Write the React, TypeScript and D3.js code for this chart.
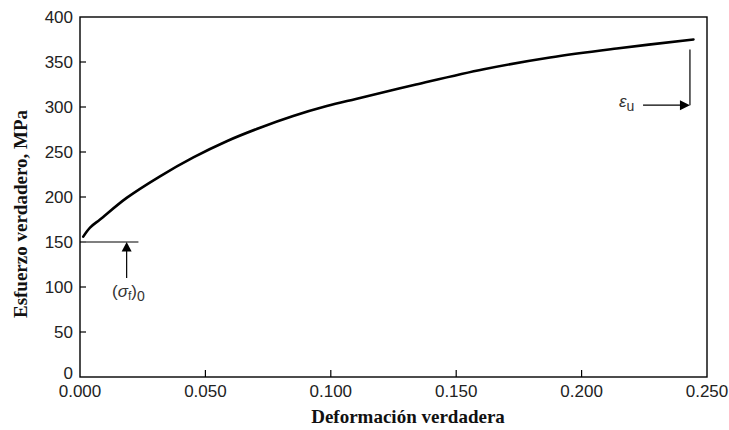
import React from "react";
import * as d3 from "d3";

const strain = [0.0013, 0.004, 0.008, 0.0186, 0.0319, 0.0452, 0.0585, 0.0718, 0.085, 0.0984, 0.11, 0.134, 0.161, 0.1874, 0.214, 0.2446];
const stress = [156, 166, 175, 199, 223, 244, 262, 277, 290, 301, 309, 325, 342, 355, 365, 375];
const xTicks = [0, 0.05, 0.1, 0.15, 0.2, 0.25];
const yTicks = [0, 50, 100, 150, 200, 250, 300, 350, 400];
const sigma0 = 150;
const sigma0LineEnd = 0.0233;
const sigma0ArrowX = 0.0186;
const sigma0ArrowFrom = 110;
const epsU = 0.2432;
const epsUTop = 364;
const epsUArrowY = 302;
const epsUArrowFrom = 0.2245;

export default function App() {
  const W = 729, H = 430;
  const m = { left: 80, right: 707, top: 17, bottom: 377 };
  const x = d3.scaleLinear().domain([0, 0.25]).range([m.left, m.right]);
  const y = d3.scaleLinear().domain([0, 400]).range([m.bottom, m.top]);
  const pts = strain.map((s, i) => [s, stress[i]] as [number, number]);
  const line = d3.line<[number, number]>().x(d => x(d[0])).y(d => y(d[1])).curve(d3.curveCatmullRom.alpha(0.5));
  const sans = "'Liberation Sans', Arial, sans-serif";
  const serif = "'Liberation Serif', 'Times New Roman', serif";

  const ax = x(sigma0ArrowX), tipY = y(sigma0);
  const ex = x(epsU), ey = y(epsUArrowY);

  return (
    <svg width={W} height={H} style={{ position: "absolute", left: 0, top: 0, background: "#fff" }}>
      <rect x={m.left} y={m.top} width={m.right - m.left} height={m.bottom - m.top} fill="none" stroke="#000" strokeWidth={1.4} />
      {yTicks.slice(1, -1).map(t => (
        <line key={"yt" + t} x1={m.left} x2={m.left + 6} y1={y(t)} y2={y(t)} stroke="#000" strokeWidth={1.2} />
      ))}
      {xTicks.slice(1, -1).map(t => (
        <line key={"xt" + t} x1={x(t)} x2={x(t)} y1={m.bottom} y2={m.bottom - 7} stroke="#000" strokeWidth={1.2} />
      ))}
      {yTicks.map(t => (
        <text key={"yl" + t} x={73} y={y(t) - (t === 0 ? 4 : 0)} dy="0.36em" textAnchor="end" fontFamily={sans} fontSize={17} fill="#222">{t}</text>
      ))}
      {xTicks.map(t => (
        <text key={"xl" + t} x={x(t)} y={397} textAnchor="middle" fontFamily={sans} fontSize={17} fill="#222">{d3.format(".3f")(t)}</text>
      ))}
      <text transform="translate(27,214) rotate(-90)" textAnchor="middle" fontFamily={serif} fontWeight="bold" fontSize={19} fill="#111">Esfuerzo verdadero, MPa</text>
      <text x={408} y={423} textAnchor="middle" fontFamily={serif} fontWeight="bold" fontSize={19} fill="#111">Deformación verdadera</text>

      <path d={line(pts) || ""} fill="none" stroke="#000" strokeWidth={2.6} strokeLinejoin="round" strokeLinecap="round" />

      {/* sigma0 annotation */}
      <line x1={x(0) + 6} x2={x(sigma0LineEnd)} y1={y(sigma0)} y2={y(sigma0)} stroke="#000" strokeWidth={1.2} />
      <line x1={ax} x2={ax} y1={y(sigma0ArrowFrom)} y2={tipY + 8} stroke="#000" strokeWidth={1.2} />
      <path d={`M${ax},${tipY} L${ax - 5},${tipY + 9.5} L${ax + 5},${tipY + 9.5} Z`} fill="#000" />
      <text x={112} y={297} fontFamily={sans} fontSize={17} fill="#333">
        (<tspan fontStyle="italic">σ</tspan><tspan fontSize={12} dy={3}>f</tspan><tspan dy={-3}>)</tspan><tspan fontSize={14} dy={4}>0</tspan>
      </text>

      {/* eps_u annotation */}
      <line x1={ex} x2={ex} y1={y(epsUTop)} y2={ey} stroke="#000" strokeWidth={1.2} />
      <line x1={x(epsUArrowFrom)} x2={ex - 8} y1={ey} y2={ey} stroke="#000" strokeWidth={1.2} />
      <path d={`M${ex},${ey} L${ex - 10},${ey - 5} L${ex - 10},${ey + 5} Z`} fill="#000" />
      <text x={619} y={107} fontFamily={sans} fontSize={17} fill="#333">
        <tspan fontStyle="italic">ε</tspan><tspan fontSize={14} dy={4}>u</tspan>
      </text>
    </svg>
  );
}
